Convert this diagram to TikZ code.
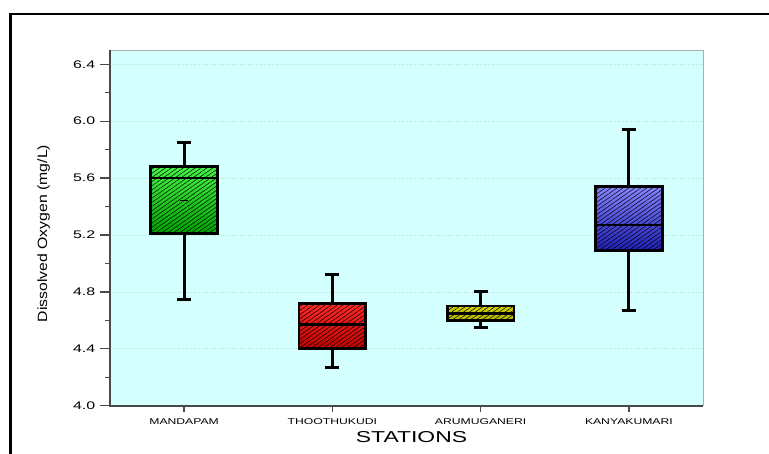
\documentclass[tikz,border=0pt]{standalone}
\usepackage{fontspec}
\setmainfont{Liberation Sans}
\newfontfamily\widefont[FakeStretch=1.45]{Liberation Sans}
\usetikzlibrary{patterns.meta}

\definecolor{plotbg}{HTML}{D4FFFF}
\definecolor{axisgray}{HTML}{454B4B}
\definecolor{bordergray}{HTML}{A8B0B0}
\definecolor{gridgray}{HTML}{BCD6D6}
\definecolor{mand-top}{HTML}{45F545}
\definecolor{mand-bot}{HTML}{00A000}
\definecolor{thoo-top}{HTML}{FF2A2A}
\definecolor{thoo-bot}{HTML}{C00000}
\definecolor{arum-top}{HTML}{D2D200}
\definecolor{arum-bot}{HTML}{B4B400}
\definecolor{kany-top}{HTML}{8585FF}
\definecolor{kany-bot}{HTML}{1E1EB4}

\tikzset{
  gridline/.style = {gridgray, line width=0.7pt, dotted},
  whisker/.style = {black, line width=3pt},
  boxline/.style = {black, line width=2.7pt, line join=miter},
  hatch/.style = {pattern={Lines[angle=35, distance=3.4pt, line width=0.5pt]},
                  pattern color=black, fill opacity=0.5},
  ticklabel/.style = {font=\widefont\fontsize{11}{13}\selectfont, inner sep=0pt},
  catlabel/.style = {font=\widefont\fontsize{8.4}{10}\selectfont, inner sep=0pt}
}

\begin{document}
\begin{tikzpicture}[x=1pt, y=1pt]
  \useasboundingbox (0,0) rectangle (769,454);
  \fill[white] (0,0) rectangle (769,454);

  % outer frame, only top and left edges fall inside the page
  \draw[line width=2.5pt] (10.3,-10) |- (780,440);

  \begin{scope}[shift={(35.875pt,-520.7pt)}, x=148.25pt, y=142.25pt]
    \fill[plotbg] (0.5,4.0) rectangle (4.5,6.5);
    \foreach \v in {4.4,4.8,5.2,5.6,6.0,6.4}{
        \draw [gridline] (0.5,\v) -- (4.5,\v);
      }
    \draw [bordergray, line width=1pt] (0.5,6.5) -- (4.5,6.5) -- (4.5,4.0);

    % boxes: station / min / q1 / median / q3 / max / colour
    \foreach \i/\lo/\qa/\md/\qb/\hi/\stn in {1/4.75/5.21/5.60/5.68/5.85/mand,
        2/4.27/4.40/4.57/4.72/4.92/thoo, 3/4.55/4.60/4.65/4.70/4.80/arum,
        4/4.67/5.09/5.27/5.54/5.94/kany}{
        \draw [whisker] (\i,\lo) -- (\i,\qa) (\i,\qb) -- (\i,\hi);
        \draw [whisker] (\i-0.047,\lo) -- (\i+0.047,\lo);
        \draw [whisker] (\i-0.047,\hi) -- (\i+0.047,\hi);
        \shade [top color=\stn-top, bottom color=\stn-bot] (\i-0.225,\qa) rectangle (\i+0.225,\qb);
        \fill [hatch] (\i-0.225,\qa) rectangle (\i+0.225,\qb);
        \draw [boxline] (\i-0.225,\qa) rectangle (\i+0.225,\qb);
        \draw [boxline] (\i-0.225,\md) -- (\i+0.225,\md);
      }
    \draw [line width=0.8pt] (1-0.027,5.44) -- (1+0.027,5.44);

    % axes
    \draw [axisgray, line width=2pt] (0.5,6.5) -- (0.5,4.0) -- (4.5,4.0);
    \foreach \v in {4.0,4.4,4.8,5.2,5.6,6.0,6.4}{
        \draw [axisgray, line width=1.3pt] (0.5,\v) -- ++(-10pt,0);
        \node [ticklabel, anchor=east] (yl\v) at ([xshift=-14.5pt]0.5,\v) {\v};
      }
    \foreach \v in {4.2,4.6,5.0,5.4,5.8,6.2}{
        \draw [axisgray, line width=1.3pt] (0.5,\v) -- ++(-5pt,0);
      }
    \foreach \i/\name in {1/MANDAPAM, 2/THOOTHUKUDI, 3/ARUMUGANERI, 4/KANYAKUMARI}{
        \draw [axisgray, line width=1.3pt] (\i,4.0) -- ++(0,-6pt);
        \node [catlabel] (cat\i) at ([yshift=-15.6pt]\i,4.0) {\name};
      }
  \end{scope}

  \node [font=\widefont\fontsize{15.8}{18}\selectfont, inner sep=0pt] (xtitle) at (411.5,17.3) {STATIONS};
  \node [font=\fontsize{15.8}{18}\selectfont, inner sep=0pt, rotate=90, yscale=0.85] (ytitle) at (43.7,220.5) {Dissolved Oxygen (mg/L)};
\end{tikzpicture}
\end{document}
